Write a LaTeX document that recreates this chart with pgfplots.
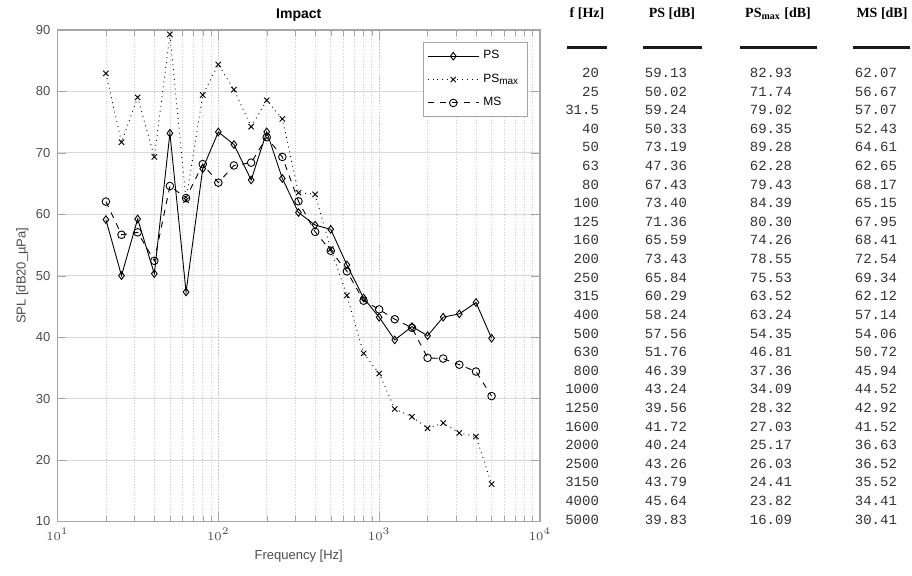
\documentclass[border=0pt]{standalone}
\usepackage{fontspec}
\setmainfont{Liberation Sans}
\newfontfamily\tabnum{Liberation Mono}
\newfontfamily\tabhead{Liberation Serif}
\usepackage{pgfplots}
\usepackage{pgfplotstable}
\pgfplotsset{compat=1.18}

% 1/3-octave impact levels
\pgfplotstableread{
f     PS     PSmax  MS
20    59.13  82.93  62.07
25    50.02  71.74  56.67
31.5  59.24  79.02  57.07
40    50.33  69.35  52.43
50    73.19  89.28  64.61
63    47.36  62.28  62.65
80    67.43  79.43  68.17
100   73.40  84.39  65.15
125   71.36  80.30  67.95
160   65.59  74.26  68.41
200   73.43  78.55  72.54
250   65.84  75.53  69.34
315   60.29  63.52  62.12
400   58.24  63.24  57.14
500   57.56  54.35  54.06
630   51.76  46.81  50.72
800   46.39  37.36  45.94
1000  43.24  34.09  44.52
1250  39.56  28.32  42.92
1600  41.72  27.03  41.52
2000  40.24  25.17  36.63
2500  43.26  26.03  36.52
3150  43.79  24.41  35.52
4000  45.64  23.82  34.41
5000  39.83  16.09  30.41
}\impact

\begin{document}
\begin{tikzpicture}[x=0.5pt,y=0.5pt]
\useasboundingbox (0,0) rectangle (912,576);
\begin{axis}[
  at={(28.75pt,27.25pt)}, anchor=south west,
  width=241.25pt, height=245.75pt, scale only axis,
  xmode=log, xmin=10, xmax=10000,
  ymin=10, ymax=90, ytick={10,20,...,90},
  axis line style={gray!70, line width=0.9pt},
  tick align=inside, tick style={gray!70},
  xmajorgrids, xminorgrids, ymajorgrids,
  major grid style={gray!30, line width=0.5pt},
  x grid style={gray!45, densely dotted, line width=0.4pt},
  minor x grid style={gray!40, densely dotted, line width=0.4pt},
  ticklabel style={font=\fontsize{6.5}{7}\selectfont, text=gray!60!black},
  /pgf/number format/assume math mode=true,
  log number format basis/.code 2 args={$#1^{\pgfmathprintnumber{#2}}$},
  title={\bfseries Impact},
  title style={font=\fontsize{7}{8}\selectfont, yshift=-5pt},
  xlabel={Frequency [Hz]}, ylabel={SPL [dB20\_µPa]},
  label style={font=\fontsize{6.5}{7}\selectfont, text=gray!60!black},
  xlabel style={yshift=2pt}, ylabel style={yshift=-3pt},
  legend cell align=left,
  legend style={at={(0.975,0.976)}, anchor=north east, draw=gray!70,
    line width=0.7pt, font=\fontsize{6}{7}\selectfont,
    row sep=2pt, inner sep=2pt},
  legend image code/.code={\draw[mark repeat=2,mark phase=2]
    plot coordinates {(0cm,0cm) (0.45cm,0cm) (0.9cm,0cm)};},
  every axis plot/.append style={black, line width=0.45pt, mark size=1.9pt},
]
\addplot[solid, mark=diamond, mark options={solid}] table[x=f, y=PS] {\impact};
\addlegendentry{PS}
\addplot[dotted, mark=x, mark options={solid}] table[x=f, y=PSmax] {\impact};
\addlegendentry{PS\textsubscript{max}}
\addplot[dashed, mark=o, mark options={solid}] table[x=f, y=MS] {\impact};
\addlegendentry{MS}
\end{axis}

% value table beside the plot
\begin{scope}[font=\fontsize{7}{8}\selectfont\tabhead\bfseries]
\node at (587,562) {f [Hz]};
\node at (672,562) {PS [dB]};
\node at (778,562) {PS\textsubscript{max} [dB]};
\node at (882,562) {MS [dB]};
\end{scope}
\begin{scope}[line width=1.5pt, gray!20!black]
\draw (567,528) -- (607,528);
\draw (643,528) -- (702,528);
\draw (740,528) -- (817,528);
\draw (853,528) -- (910,528);
\end{scope}
\tikzset{tabcell/.style={anchor=east, text=black!80,
  font=\fontsize{7}{8}\selectfont\tabnum}}
\foreach \i in {0,...,24} {
  \pgfmathsetmacro{\ry}{576-73-\i*18.6}
  \pgfplotstablegetelem{\i}{f}\of\impact
  \node[tabcell] at (606,\ry) {\pgfplotsretval};
  \pgfplotstablegetelem{\i}{PS}\of\impact
  \node[tabcell] at (694,\ry) {\pgfplotsretval};
  \pgfplotstablegetelem{\i}{PSmax}\of\impact
  \node[tabcell] at (799,\ry) {\pgfplotsretval};
  \pgfplotstablegetelem{\i}{MS}\of\impact
  \node[tabcell] at (904,\ry) {\pgfplotsretval};
}
\end{tikzpicture}
\end{document}
